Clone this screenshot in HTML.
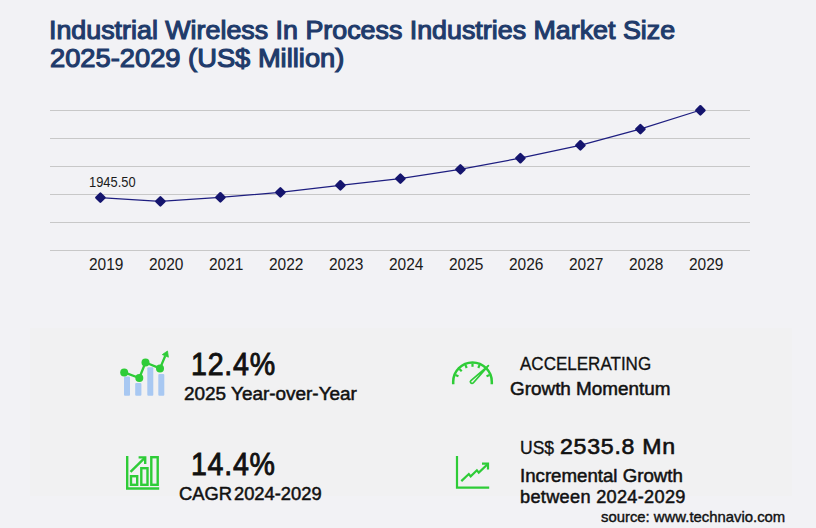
<!DOCTYPE html>
<html><head><meta charset="utf-8">
<style>
html,body{margin:0;padding:0;}
body{width:816px;height:528px;background:#f2f2f5;position:relative;overflow:hidden;font-family:"Liberation Sans",sans-serif;}
.t{position:absolute;white-space:nowrap;line-height:1;transform-origin:0 0;}
.panel{position:absolute;left:30px;top:328px;width:762px;height:168px;background:#f1f1f2;}
</style></head><body>
<div class="panel"></div>
<svg style="position:absolute;left:0;top:0" width="816" height="300" viewBox="0 0 816 300">
<g stroke="#c8c8c8" stroke-width="1">
<line x1="50" y1="110.5" x2="750" y2="110.5"/>
<line x1="50" y1="138.5" x2="750" y2="138.5"/>
<line x1="50" y1="166.5" x2="750" y2="166.5"/>
<line x1="50" y1="194.5" x2="750" y2="194.5"/>
<line x1="50" y1="222.5" x2="750" y2="222.5"/>
<line x1="50" y1="250.5" x2="750" y2="250.5"/>
</g>
<polyline fill="none" stroke="#1e1e80" stroke-width="1.2" points="100,197.6 160,201.4 220,197.3 280,192.4 340,185.3 400,178.6 460,169.4 520,158.2 580,145.3 640,129.1 700,110.3"/>
<g fill="#15156e" stroke="#15156e" stroke-width="2.4" stroke-linejoin="round">
<path d="M100.4,193.50 L104.50,197.6 L100.4,201.70 L96.30,197.6Z"/>
<path d="M160.4,197.30 L164.50,201.4 L160.4,205.50 L156.30,201.4Z"/>
<path d="M220.4,193.20 L224.50,197.3 L220.4,201.40 L216.30,197.3Z"/>
<path d="M280.4,188.30 L284.50,192.4 L280.4,196.50 L276.30,192.4Z"/>
<path d="M340.4,181.20 L344.50,185.3 L340.4,189.40 L336.30,185.3Z"/>
<path d="M400.4,174.50 L404.50,178.6 L400.4,182.70 L396.30,178.6Z"/>
<path d="M460.4,165.30 L464.50,169.4 L460.4,173.50 L456.30,169.4Z"/>
<path d="M520.4,154.10 L524.50,158.2 L520.4,162.30 L516.30,158.2Z"/>
<path d="M580.4,141.20 L584.50,145.3 L580.4,149.40 L576.30,145.3Z"/>
<path d="M640.4,125.00 L644.50,129.1 L640.4,133.20 L636.30,129.1Z"/>
<path d="M700.4,106.20 L704.50,110.3 L700.4,114.40 L696.30,110.3Z"/>
</g>
</svg>
<svg style="position:absolute;left:0;top:0" width="816" height="528" viewBox="0 0 816 528">
<g fill="#a8c8f2">
<rect x="124" y="376.4" width="6" height="19.3" rx="1"/>
<rect x="135.2" y="383" width="6.2" height="12.7" rx="1"/>
<rect x="147.3" y="367.3" width="6" height="28.4" rx="1"/>
<rect x="158.3" y="374" width="6" height="21.7" rx="1"/>
</g>
<g stroke="#2ecc37" fill="#2ecc37">
<polyline fill="none" stroke-width="2.3" stroke-linejoin="round" points="124.2,372.4 139.3,378 145.5,362.5 160,368.4 165.2,356"/>
<circle cx="124.2" cy="372.4" r="4" stroke="none"/>
<circle cx="139.3" cy="378" r="4" stroke="none"/>
<circle cx="145.5" cy="362.5" r="4" stroke="none"/>
<circle cx="160" cy="368.4" r="4" stroke="none"/>
<path d="M167.5,351 L168.4,357.2 L162.3,354.6Z" stroke-width="0.8" stroke-linejoin="round"/>
</g>
<g stroke="#2ecc37" fill="none" stroke-width="2.4">
<path d="M127.2,456 V488.5 H159.2"/>
<rect x="131" y="476.2" width="6.2" height="8.6"/>
<rect x="141.3" y="468.2" width="6.2" height="16.6"/>
<rect x="151.3" y="457.2" width="6.4" height="27.6"/>
<path d="M130.5,471.8 L145,457.6"/>
<path d="M138.6,457.4 H145.2 V464"/>
</g>
<g stroke="#2ecc37" fill="none" stroke-width="2.5">
<path d="M453.2,384.2 V381.7 A19.3,19.3 0 0 1 491.8,381.7 V384.2"/>
</g>
<g stroke="#2ecc37" stroke-width="2.2" fill="none" id="ticks">
<line x1="486.54" y1="376.18" x2="489.59" y2="374.92"/>
<line x1="478.32" y1="367.96" x2="479.58" y2="364.91"/>
<line x1="472.50" y1="366.80" x2="472.50" y2="363.50"/>
<line x1="466.68" y1="367.96" x2="465.42" y2="364.91"/>
<line x1="461.75" y1="371.25" x2="459.42" y2="368.92"/>
<line x1="458.46" y1="376.18" x2="455.41" y2="374.92"/>
</g>
<g stroke="#2ecc37" fill="#f2f2f2" stroke-width="1.7" stroke-linejoin="round">
<path d="M488.4,365.6 L473.2,383.0 A1.6,1.6 0 0 1 470.9,380.6 Z"/>
</g>
<g stroke="#2ecc37" fill="none" stroke-width="2.2">
<path d="M457,456 V487.6 H489.2"/>
<path d="M461.3,481.1 L468.8,474 L470.7,476.4 L476.9,470.3 L478.8,472.6 L487.3,464.5"/>
<path d="M482,463.6 H488 V469.4"/>
</g>
</svg>

<div class="t" style="left:49.20px;top:16.90px;font-size:26.2px;color:#1f3b6b;transform:scaleX(1.0243);-webkit-text-stroke:1.15px #1f3b6b;">Industrial Wireless In Process Industries Market Size</div>
<div class="t" style="left:50.00px;top:44.70px;font-size:26.2px;color:#1f3b6b;transform:scaleX(1.0423);-webkit-text-stroke:1.15px #1f3b6b;">2025-2029 (US$ Million)</div>
<div class="t" style="left:89.40px;top:175.40px;font-size:14px;color:#1a1a1a;transform:scaleX(0.9200);">1945.50</div>
<div class="t" style="left:89.40px;top:256.30px;font-size:16.3px;color:#1a1a1a;transform:scaleX(0.9509);">2019</div>
<div class="t" style="left:149.40px;top:256.30px;font-size:16.3px;color:#1a1a1a;transform:scaleX(0.9509);">2020</div>
<div class="t" style="left:209.40px;top:256.30px;font-size:16.3px;color:#1a1a1a;transform:scaleX(0.9509);">2021</div>
<div class="t" style="left:269.40px;top:256.30px;font-size:16.3px;color:#1a1a1a;transform:scaleX(0.9509);">2022</div>
<div class="t" style="left:329.40px;top:256.30px;font-size:16.3px;color:#1a1a1a;transform:scaleX(0.9509);">2023</div>
<div class="t" style="left:389.40px;top:256.30px;font-size:16.3px;color:#1a1a1a;transform:scaleX(0.9509);">2024</div>
<div class="t" style="left:449.40px;top:256.30px;font-size:16.3px;color:#1a1a1a;transform:scaleX(0.9509);">2025</div>
<div class="t" style="left:509.40px;top:256.30px;font-size:16.3px;color:#1a1a1a;transform:scaleX(0.9509);">2026</div>
<div class="t" style="left:569.40px;top:256.30px;font-size:16.3px;color:#1a1a1a;transform:scaleX(0.9509);">2027</div>
<div class="t" style="left:629.40px;top:256.30px;font-size:16.3px;color:#1a1a1a;transform:scaleX(0.9509);">2028</div>
<div class="t" style="left:689.40px;top:256.30px;font-size:16.3px;color:#1a1a1a;transform:scaleX(0.9509);">2029</div>
<div class="t" style="left:190.60px;top:348.60px;font-size:31px;color:#111;transform:scaleX(0.9233);letter-spacing:0.8px;-webkit-text-stroke:0.9px #111;">12.4%</div>
<div class="t" style="left:184.40px;top:384.80px;font-size:18px;color:#111;transform:scaleX(1.0513);-webkit-text-stroke:0.5px #111;">2025 Year-over-Year</div>
<div class="t" style="left:191.00px;top:448.70px;font-size:31px;color:#111;transform:scaleX(0.9206);letter-spacing:0.8px;-webkit-text-stroke:0.9px #111;">14.4%</div>
<div class="t" style="left:179.40px;top:485.30px;font-size:18px;color:#111;transform:scaleX(1.0180);word-spacing:-3px;-webkit-text-stroke:0.5px #111;">CAGR 2024-2029</div>
<div class="t" style="left:520.00px;top:355.30px;font-size:18px;color:#111;transform:scaleX(0.9456);-webkit-text-stroke:0.3px #111;">ACCELERATING</div>
<div class="t" style="left:510.20px;top:379.70px;font-size:18px;color:#111;transform:scaleX(1.0493);-webkit-text-stroke:0.5px #111;">Growth Momentum</div>
<div class="t" style="left:520.20px;top:438.70px;font-size:18px;color:#111;transform:scaleX(0.9723);-webkit-text-stroke:0.35px #111;">US$</div>
<div class="t" style="left:560.20px;top:435.60px;font-size:21.8px;color:#111;transform:scaleX(1.0608);letter-spacing:0.7px;-webkit-text-stroke:0.6px #111;">2535.8 Mn</div>
<div class="t" style="left:520.20px;top:467.10px;font-size:18px;color:#111;transform:scaleX(1.0367);-webkit-text-stroke:0.5px #111;">Incremental Growth</div>
<div class="t" style="left:520.20px;top:487.90px;font-size:18px;color:#111;transform:scaleX(1.0092);letter-spacing:0.3px;-webkit-text-stroke:0.5px #111;">between 2024-2029</div>
<div class="t" style="left:600.80px;top:509.00px;font-size:15px;color:#111;transform:scaleX(0.9909);-webkit-text-stroke:0.4px #111;">source: www.technavio.com</div>
</body></html>
